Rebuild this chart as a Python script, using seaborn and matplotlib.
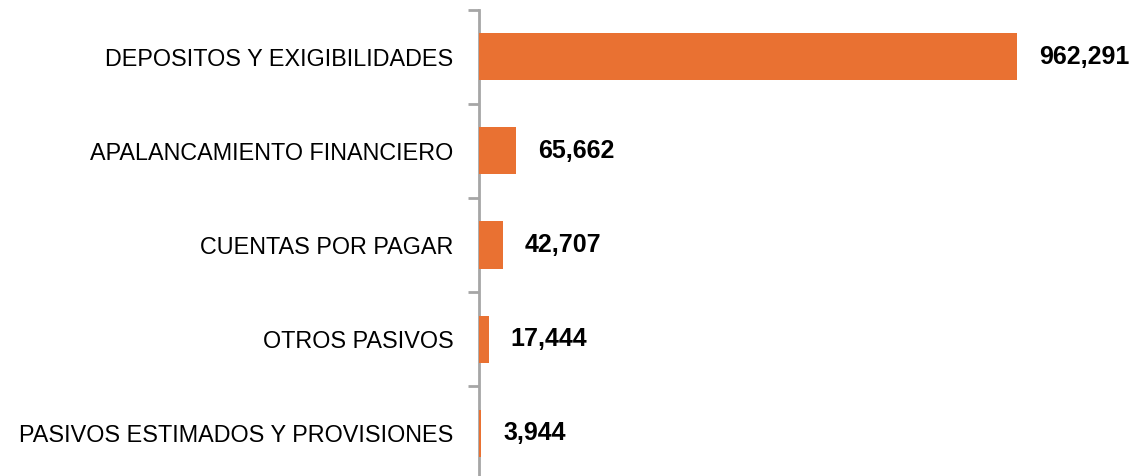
import matplotlib
matplotlib.use("Agg")
import matplotlib.pyplot as plt
import seaborn as sns
import pandas as pd

# Data
categories = [
    "DEPOSITOS Y EXIGIBILIDADES",
    "APALANCAMIENTO FINANCIERO",
    "CUENTAS POR PAGAR",
    "OTROS PASIVOS",
    "PASIVOS ESTIMADOS Y PROVISIONES",
]
values = [962291, 65662, 42707, 17444, 3944]

df = pd.DataFrame({"categoria": categories, "valor": values})

sns.set_theme(style="white")
plt.rcParams["font.family"] = ["Liberation Sans", "DejaVu Sans"]

fig = plt.figure(figsize=(11.47, 4.76), dpi=100)
ax = fig.add_axes([479 / 1147, -4 / 476, 668 / 1147, 470 / 476])

sns.barplot(data=df, x="valor", y="categoria", orient="h", color="#E97132",
            width=0.5, saturation=1, linewidth=0, ax=ax)

ax.set_xlim(0, 962291 * 668 / 538)
ax.set_ylim(len(categories) - 0.5, -0.5)

# value labels
for i, v in enumerate(values):
    ax.annotate(f"{v:,}", xy=(v, i), xytext=(22, 0), textcoords="offset pixels",
                ha="left", va="center", fontsize=18, fontweight="bold", color="black")

for s in ["top", "right", "bottom"]:
    ax.spines[s].set_visible(False)
ax.spines["left"].set_color("#A6A6A6")
ax.spines["left"].set_linewidth(2)
ax.spines["left"].set_zorder(0.5)

ax.set_xticks([])
ax.set_xlabel("")
ax.set_ylabel("")
ax.set_yticks(range(len(categories)))
ax.set_yticklabels(categories, fontsize=16.8, color="black")
ax.set_yticks([i - 0.5 for i in range(len(categories) + 1)], minor=True)
ax.tick_params(axis="y", which="major", length=0, pad=18.5)
ax.tick_params(axis="y", which="minor", length=8, width=2, color="#A6A6A6", left=True)

fig.savefig("out.png", dpi=100)
